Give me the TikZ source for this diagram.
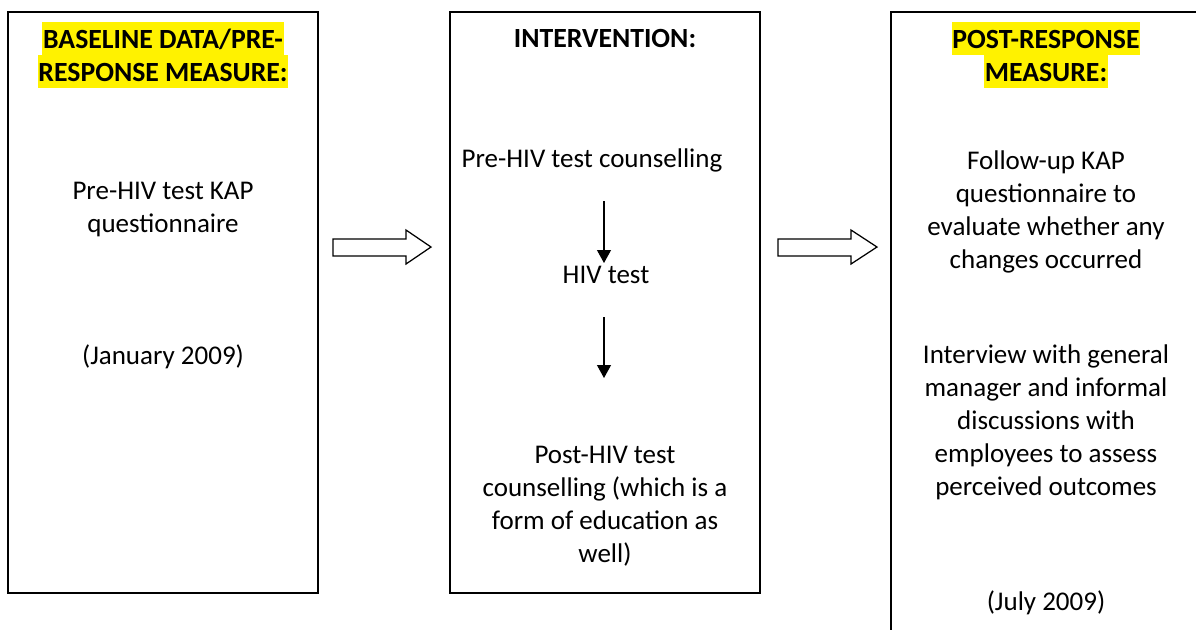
\documentclass[tikz,border=0pt]{standalone}
\usepackage{fontspec}
\setmainfont{Carlito}
\usetikzlibrary{arrows.meta}
\begin{document}
\begin{tikzpicture}[x=0.4pt,y=-0.4pt,
  every node/.style={font=\fontsize{10.8}{13.2}\selectfont, align=center, inner sep=0pt},
  panel/.style={draw=black, line width=0.8pt},
  hl/.style={fill=yellow, font=\fontsize{11.1}{13.2}\selectfont\bfseries, text height=10.4pt, text depth=2.8pt, inner xsep=0.3pt, inner ysep=0pt, anchor=base},
  blockarrow/.style={draw=black, line width=0.5pt, fill=white},
  flow/.style={draw=black, line width=0.45pt, -{Triangle[width=5.6pt,length=5.2pt]}}
]
\useasboundingbox (0,0) rectangle (1196,629);
\clip (0,0) rectangle (1196,629);
\fill[white] (0,0) rectangle (1196,629);

% panels
\draw[panel] (8,12) rectangle (318,593);
\draw[panel] (450,12) rectangle (760,593);
\draw[panel] (1210,12) -- (891,12) -- (891,640);

% left panel
\node[hl] (l1) at (163,48) {BASELINE DATA/PRE-};
\node[hl] (l2) at (163,81) {RESPONSE MEASURE:};
\node (ltext) at (163,210) {Pre-HIV test KAP\\questionnaire};
\node (ldate) at (163,357) {(January 2009)};

% middle panel
\node[font=\fontsize{11.1}{13.2}\selectfont\bfseries] (m1) at (605,38) {INTERVENTION:};
\node (pre) at (592,160) {Pre-HIV test counselling};
\node (hiv) at (606,275) {HIV test};
\node (post) at (605,506) {Post-HIV test\\counselling (which is a\\form of education as\\well)};

\coordinate (a1s) at (604,201);
\coordinate (a1e) at (604,263);
\coordinate (a2s) at (604,317);
\coordinate (a2e) at (604,378);
\draw[flow] (a1s) -- (a1e);
\draw[flow] (a2s) -- (a2e);

% right panel
\node[hl] (r1) at (1046,48) {POST-RESPONSE};
\node[hl] (r2) at (1046,81) {MEASURE:};
\node (rtext) at (1046,212) {Follow-up KAP\\questionnaire to\\evaluate whether any\\changes occurred};
\node (rtext2) at (1046,422) {Interview with general\\manager and informal\\discussions with\\employees to assess\\perceived outcomes};
\node (rdate) at (1046,603) {(July 2009)};

% block arrows
\draw[blockarrow] (333,239) -- (406,239) -- (406,230) -- (431,247) -- (406,264) -- (406,256) -- (333,256) -- cycle;
\draw[blockarrow] (778,239) -- (851,239) -- (851,230) -- (877,247) -- (851,264) -- (851,256) -- (778,256) -- cycle;
\end{tikzpicture}
\end{document}
